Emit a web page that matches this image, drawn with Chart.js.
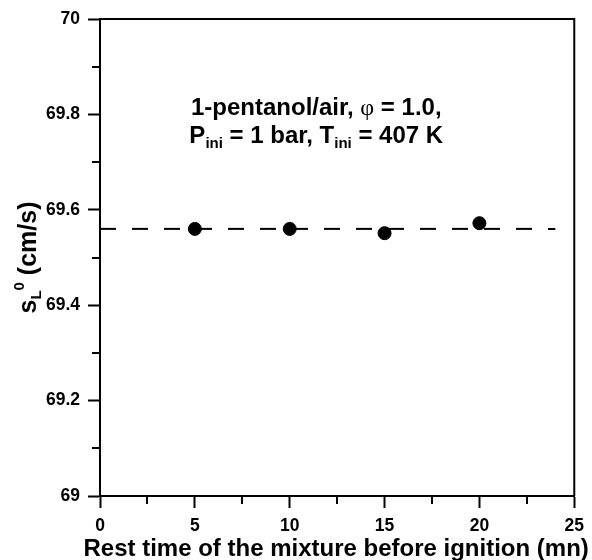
<!DOCTYPE html>
<html>
<head>
<meta charset="utf-8">
<script src="https://cdn.jsdelivr.net/npm/chart.js@4.4.0/dist/chart.umd.min.js"></script>
<style>
    html, body { margin: 0; padding: 0; background: #fff; }
    canvas { display: block; }
</style>
</head>
<body>
<canvas id="chart" width="592" height="560"></canvas>
<script>
// Datos
const restTimes = [5, 10, 15, 20];
const flameSpeeds = [69.56, 69.56, 69.551, 69.572];
const meanLineX = [0, 24];
const meanSpeed = 69.56;
const xTickLabels = ['0', '5', '10', '15', '20', '25'];
const yTickLabels = ['69', '69.2', '69.4', '69.6', '69.8', '70'];
const xMinorTicks = [2.5, 7.5, 12.5, 17.5, 22.5];
const yMinorTicks = [69.1, 69.3, 69.5, 69.7, 69.9];
const xTitle = 'Rest time of the mixture before ignition (mn)';

const FONT = '"Liberation Sans", Arial, sans-serif';

// Dibuja una línea de texto con trozos de distinto tamaño (subíndices, superíndices)
function drawPieces(ctx, pieces, cx, baseY) {
    let total = 0;
    pieces.forEach(p => {
        ctx.font = p.font;
        p.w = ctx.measureText(p.t).width;
        total += p.w;
    });
    let px = cx - total / 2;
    pieces.forEach(p => {
        ctx.font = p.font;
        ctx.fillText(p.t, px, baseY + (p.dy || 0));
        px += p.w;
    });
}

// Plugin: marco, ticks menores, títulos y anotación
const extras = {
    id: 'extras',
    afterDraw(chart) {
        const { ctx, chartArea: a, scales: { x, y } } = chart;
        ctx.save();
        ctx.strokeStyle = '#000';
        ctx.lineWidth = 2;

        ctx.beginPath();
        ctx.moveTo(a.left, a.top);
        ctx.lineTo(a.right, a.top);
        ctx.lineTo(a.right, a.bottom);
        ctx.stroke();

        ctx.beginPath();
        xMinorTicks.forEach(v => {
            const px = Math.round(x.getPixelForValue(v));
            ctx.moveTo(px, a.bottom);
            ctx.lineTo(px, a.bottom + 8);
        });
        yMinorTicks.forEach(v => {
            const py = Math.round(y.getPixelForValue(v));
            ctx.moveTo(a.left, py);
            ctx.lineTo(a.left - 8, py);
        });
        ctx.stroke();

        ctx.fillStyle = '#000';
        ctx.textAlign = 'left';
        ctx.textBaseline = 'alphabetic';

        // título del eje X (sin compresión de ancho)
        ctx.font = 'bold 24px ' + FONT;
        ctx.textAlign = 'center';
        ctx.fillText(xTitle, (a.left + a.right) / 2 - 1, 556);
        ctx.textAlign = 'left';

        // título del eje Y: s_L^0 (cm/s)
        const big = 'bold 25px ' + FONT;
        const small = 'bold 15px ' + FONT;
        ctx.save();
        ctx.translate(36, (a.top + a.bottom) / 2);
        ctx.rotate(-Math.PI / 2);
        drawPieces(ctx, [
            { t: 's', font: big },
            { t: 'L', font: small, dy: 5 },
            { t: '0', font: small, dy: -12 },
            { t: ' (cm/s)', font: big }
        ], 0, 0);
        ctx.restore();

        // anotación
        const cx = x.getPixelForValue(11.4);
        const ann = 'bold 24px ' + FONT;
        const annSub = 'bold 15px ' + FONT;
        const phi = '24px "Liberation Serif", "DejaVu Serif", serif';
        drawPieces(ctx, [
            { t: '1-pentanol/air, ', font: ann },
            { t: 'φ', font: phi },
            { t: ' = 1.0,', font: ann }
        ], cx, y.getPixelForValue(69.799));
        drawPieces(ctx, [
            { t: 'P', font: ann },
            { t: 'ini', font: annSub, dy: 5 },
            { t: ' = 1 bar, T', font: ann },
            { t: 'ini', font: annSub, dy: 5 },
            { t: ' = 407 K', font: ann }
        ], cx, y.getPixelForValue(69.741));
        ctx.restore();
    }
};

const ctx = document.getElementById('chart').getContext('2d');
const chart = new Chart(ctx, {
    type: 'scatter',
    data: {
        datasets: [
            {
                label: 'Media',
                type: 'line',
                data: meanLineX.map(v => ({ x: v, y: meanSpeed })),
                borderColor: '#000',
                borderWidth: 2,
                borderDash: [16, 16],
                pointRadius: 0,
                fill: false,
                order: 1
            },
            {
                label: 'Medidas',
                data: restTimes.map((t, i) => ({ x: t, y: flameSpeeds[i] })),
                backgroundColor: '#000',
                borderColor: '#000',
                pointRadius: 6.5,
                order: 0
            }
        ]
    },
    options: {
        responsive: false,
        animation: false,
        layout: { padding: { top: 19, right: 16, left: 0, bottom: 0 } },
        plugins: {
            legend: { display: false },
            tooltip: { enabled: false }
        },
        scales: {
            x: {
                type: 'linear',
                min: 0,
                max: 25,
                afterFit: s => { s.height = 64; },
                border: { display: true, color: '#000', width: 2 },
                grid: { drawOnChartArea: false, drawTicks: true, tickLength: 12, tickWidth: 2, tickColor: '#000' },
                ticks: {
                    stepSize: 5,
                    padding: 8,
                    color: '#000',
                    font: { family: FONT, size: 17.5, weight: 'bold' },
                    callback: v => xTickLabels.find(l => Math.abs(parseFloat(l) - v) < 1e-6)
                }
            },
            y: {
                min: 69,
                max: 70,
                afterFit: s => { s.width = 100; },
                border: { display: true, color: '#000', width: 2 },
                grid: { drawOnChartArea: false, drawTicks: true, tickLength: 12, tickWidth: 2, tickColor: '#000' },
                ticks: {
                    stepSize: 0.2,
                    padding: 8,
                    color: '#000',
                    font: { family: FONT, size: 17.5, weight: 'bold' },
                    callback: v => yTickLabels.find(l => Math.abs(parseFloat(l) - v) < 1e-6)
                }
            }
        }
    },
    plugins: [extras]
});
</script>
</body>
</html>
